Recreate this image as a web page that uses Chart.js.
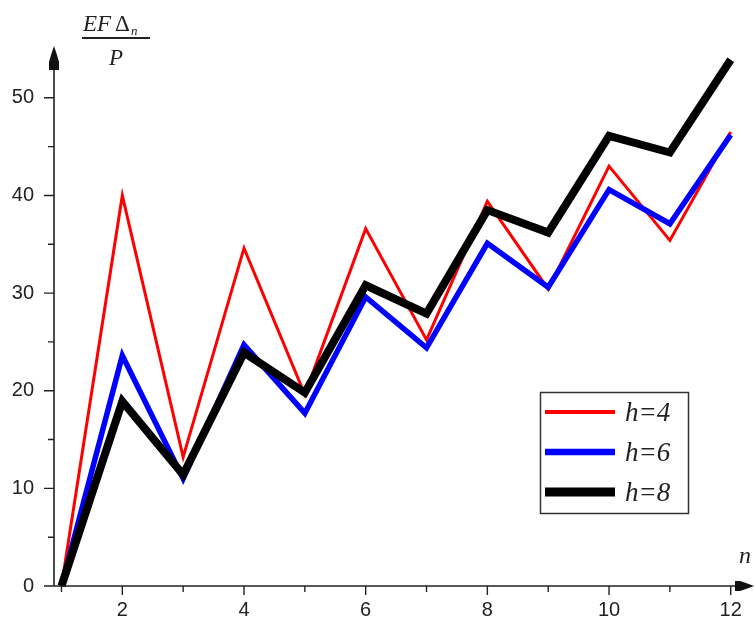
<!DOCTYPE html>
<html>
<head>
<meta charset="UTF-8">
<title>EF delta / P vs n</title>
<script src="https://cdn.jsdelivr.net/npm/chart.js@4.4.1/dist/chart.umd.min.js"></script>
<style>
    html, body { margin: 0; padding: 0; background: #fff; }
    #wrap { width: 754px; height: 623px; }
</style>
</head>
<body>
<div id="wrap"><canvas id="chart" width="754" height="623"></canvas></div>
<script>
    // data
    const nValues = [1, 2, 3, 4, 5, 6, 7, 8, 9, 10, 11, 12];
    const h4 = [0, 40, 13.2, 34.6, 19.6, 36.6, 25.2, 39.4, 30.4, 43, 35.4, 46.5];
    const h6 = [0, 23.6, 11, 24.7, 17.7, 29.6, 24.4, 35.1, 30.6, 40.6, 37.1, 46.2];
    const h8 = [0, 18.9, 11.4, 23.9, 19.8, 30.8, 27.9, 38.5, 36.2, 46.1, 44.4, 53.9];
    const seriesLabels = ['h=4', 'h=6', 'h=8'];
    const xTicks = [2, 4, 6, 8, 10, 12];
    const xMinorTicks = [1, 3, 5, 7, 9, 11];
    const yTicks = [0, 10, 20, 30, 40, 50];
    const yMinorTicks = [5, 15, 25, 35, 45];

    const toPoints = arr => arr.map((v, i) => ({ x: nValues[i], y: v }));

    // axes with arrows, tick marks, axis titles and the boxed legend
    const mapleAxes = {
        id: 'mapleAxes',
        afterDatasetsDraw(chart) {
            const ctx = chart.ctx;
            const xs = chart.scales.x, ys = chart.scales.y;
            const ox = chart.chartArea.left;
            const oy = ys.getPixelForValue(0);
            ctx.save();
            ctx.strokeStyle = '#222';
            ctx.fillStyle = '#111';
            ctx.lineWidth = 1.6;

            // axis lines
            ctx.beginPath();
            ctx.moveTo(ox, oy);
            ctx.lineTo(748, oy);
            ctx.moveTo(ox, oy);
            ctx.lineTo(ox, 52);
            ctx.stroke();

            // arrow on y axis
            ctx.beginPath();
            ctx.moveTo(ox, 46);
            ctx.lineTo(ox + 3, 55);
            ctx.lineTo(ox + 5, 62);
            ctx.lineTo(ox + 5, 70);
            ctx.lineTo(ox - 5, 70);
            ctx.lineTo(ox - 5, 62);
            ctx.lineTo(ox - 3, 55);
            ctx.closePath();
            ctx.fill();
            // arrow on x axis
            ctx.beginPath();
            ctx.moveTo(754, oy);
            ctx.lineTo(746, oy - 3);
            ctx.lineTo(740, oy - 5);
            ctx.lineTo(735, oy - 5);
            ctx.lineTo(735, oy + 5);
            ctx.lineTo(740, oy + 5);
            ctx.lineTo(746, oy + 3);
            ctx.closePath();
            ctx.fill();

            // tick marks
            ctx.lineWidth = 1.4;
            ctx.beginPath();
            xTicks.forEach(v => { const p = xs.getPixelForValue(v); ctx.moveTo(p, oy); ctx.lineTo(p, oy + 9); });
            xMinorTicks.forEach(v => { const p = xs.getPixelForValue(v); ctx.moveTo(p, oy); ctx.lineTo(p, oy + 6); });
            yTicks.forEach(v => { const p = ys.getPixelForValue(v); ctx.moveTo(ox, p); ctx.lineTo(ox - 10, p); });
            yMinorTicks.forEach(v => { const p = ys.getPixelForValue(v); ctx.moveTo(ox, p); ctx.lineTo(ox - 6, p); });
            ctx.stroke();

            // y title: EF Δn / P
            ctx.fillStyle = '#222';
            ctx.textBaseline = 'alphabetic';
            ctx.textAlign = 'left';
            ctx.font = 'italic 23px "Liberation Serif"';
            ctx.fillText('EF', 83, 31);
            ctx.font = '23px "Liberation Serif"';
            ctx.fillText('\u0394', 115, 31);
            ctx.font = 'italic 13px "Liberation Serif"';
            ctx.fillText('n', 131, 35);
            ctx.lineWidth = 1.8;
            ctx.beginPath();
            ctx.moveTo(82, 38);
            ctx.lineTo(150, 38);
            ctx.stroke();
            ctx.font = 'italic 23px "Liberation Serif"';
            ctx.textAlign = 'center';
            ctx.fillText('P', 116, 65);

            // x title
            ctx.font = 'italic 24px "Liberation Serif"';
            ctx.fillText('n', 745, 563);

            // legend box
            ctx.lineWidth = 1.5;
            ctx.strokeStyle = '#333';
            ctx.strokeRect(540.5, 392.5, 148, 121);
            ctx.textAlign = 'left';
            ctx.font = 'italic 27px "Liberation Serif"';
            chart.data.datasets.forEach((ds, i) => {
                const y = 412 + i * 40;
                ctx.strokeStyle = ds.borderColor;
                ctx.lineWidth = ds.borderWidth + 1;
                ctx.beginPath();
                ctx.moveTo(545, y);
                ctx.lineTo(615, y);
                ctx.stroke();
                ctx.fillStyle = '#222';
                ctx.fillText(ds.label, 625, y + 9);
            });
            ctx.restore();
        }
    };

    new Chart(document.getElementById('chart'), {
        type: 'line',
        data: {
            datasets: [{
                label: seriesLabels[0],
                data: toPoints(h4),
                borderColor: '#ff0000',
                borderWidth: 3,
                order: 2
            }, {
                label: seriesLabels[1],
                data: toPoints(h6),
                borderColor: '#0000ff',
                borderWidth: 5.5,
                order: 1
            }, {
                label: seriesLabels[2],
                data: toPoints(h8),
                borderColor: '#000000',
                borderWidth: 8,
                order: 0
            }]
        },
        options: {
            responsive: false,
            devicePixelRatio: 1,
            animation: false,
            layout: { padding: { top: 49, right: 9, bottom: 0, left: 0 } },
            elements: {
                point: { radius: 0 },
                line: { tension: 0, borderJoinStyle: 'miter', fill: false }
            },
            datasets: { line: { clip: false } },
            plugins: {
                legend: { display: false },
                tooltip: { enabled: false }
            },
            scales: {
                x: {
                    type: 'linear',
                    min: 0.877,
                    max: 12.2,
                    afterBuildTicks: s => { s.ticks = xTicks.map(v => ({ value: v })); },
                    afterFit: s => { s.height = 37; },
                    grid: { display: false, drawTicks: false },
                    border: { display: false },
                    ticks: {
                        padding: 12,
                        color: '#222',
                        font: { family: 'Liberation Sans', size: 20 },
                        maxRotation: 0
                    }
                },
                y: {
                    min: 0,
                    max: 55,
                    afterBuildTicks: s => { s.ticks = yTicks.map(v => ({ value: v })); },
                    afterFit: s => { s.width = 54; },
                    grid: { display: false, drawTicks: false },
                    border: { display: false },
                    ticks: {
                        padding: 20,
                        color: '#222',
                        font: { family: 'Liberation Sans', size: 20 }
                    }
                }
            }
        },
        plugins: [mapleAxes]
    });
</script>
</body>
</html>
